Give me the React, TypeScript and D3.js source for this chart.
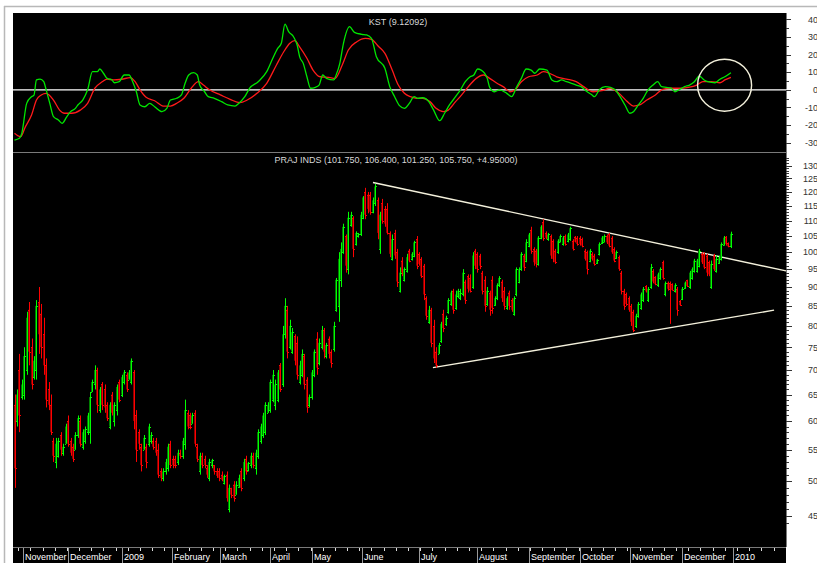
import * as d3 from "d3";

// PRAJ INDS daily bars, late Oct 2008 .. end Dec 2009: [open, high, low, close]
const bars: number[][] = [
  [63,65,49,52],[60,66,59,65],[70,73.5,58,61],[64.5,68,64,67],[65,75,64,73],[70,83.5,69,82],[84,86,71,74],[75,77,66,67],
  [68.5,73,68,72],[70,86.5,68,85],[86,90,73.5,78],[83,85.5,72.5,75],[78,82,69,71],[71,72.5,62.5,64],[66,67.5,62,63],[63,65,57.5,58],
  [56.5,57,53,54],[53,57,52,56],[54,57,53.7,56.5],[57.5,58,54,55],[54.5,56,54,55.5],[56,59.5,56,59],[60,61,55.5,56],[56.5,57,54,54.5],
  [55.5,56,53,53.5],[55,58,55,57.5],[57.5,61,57,60.5],[60,61,55.5,56],[55.5,58.5,55,58],[56.5,59,56,58.5],[58,61.5,57.5,61],[58,65.5,56,64.5],
  [65.5,68,65.5,67.5],[67,71,66,70],[70,70.5,61.5,63],[62,66.5,61.5,66],[67,67.5,62,63],[66,67,61.5,62.5],[63,63.5,60,60.5],[59,63.5,58.5,63],
  [65,65.5,61,61.5],[60,63.5,59,63],[62,67,61,66.5],[67.5,68,63.5,64],[65,69,64.5,68.5],[67.5,70,67,69.5],[69,69.5,65.5,66],[68,70,68,69.5],
  [67.5,72.5,67,72],[69.5,70,58.5,60],[61,62,53,55],[58,58.5,55,56],[55.5,56,51.5,52.5],[55,57.5,55,57],[55.5,56,52,53],[56,59.5,55.5,59],
  [56.5,58,56,57.5],[56.5,57,55,55.5],[56.5,57,54,54.5],[55,56,50.5,51],[51.5,52,50,50.5],[50.5,52,50,51.5],[51.5,53.5,51,53],[52,56,51.5,55.5],
  [56,56.5,52,52.5],[53.5,54,52,52.5],[53.5,54,52,52.5],[53,55,52.5,54.5],[54.5,55,53.5,54],[54,57,53.5,56.5],[56,64,55,62],[61.5,62,58.5,59],
  [61,61.5,58.5,59],[59.5,61.5,59.5,61],[61.5,62,55.5,56],[55.5,56,53,53.5],[51.5,54.5,51,54],[54,54.5,52,52.5],[53.5,54,52,52.5],[52,52.5,50.5,51],
  [50.5,53.5,50,53],[52.5,53.5,52,53.3],[52.5,52.5,51,51.5],[51.5,52,50.5,50.8],[51.5,52,50,50.5],[51,51.5,50,50.2],[49.8,51,49.5,50.8],[51,51.5,47,47.5],
  [46,49.5,45.5,49],[49,49,47.5,48],[49.5,50,47,47.5],[48,50,48,49.5],[49.2,51,49,50.5],[51.5,52,48.5,49],[50.5,53.5,50,53],[53.5,54,51,51.5],
  [51.8,53,51.5,52.8],[52.5,54.5,52,54],[54,54.5,52,52.5],[52,55,51,54.5],[54,58.5,53.5,58],[56.5,59.5,56,59],[57.5,61.5,57,61],[58,63.5,57.5,63],
  [61.5,63.5,61.5,63],[62,68,61.5,67.5],[64,70,63.5,69],[63,68,62,67],[64,70,63.5,69.5],[71,71.5,65.5,66],[67,80,66.5,78],[78,87,77,85],
  [84,85,72.5,74],[75,81.5,74.5,80],[74,79.5,73.5,78.5],[77.5,78,71,72],[76,77.5,68,69],[67.5,72,67,71],[69,74.5,68.5,73.5],[73,73.5,66,67],
  [68,68.5,61.5,62.5],[63,65,62.5,64.5],[64.5,70,64,69.5],[69,74.5,68.5,74],[77,78.5,69,70.5],[71.5,77,71,76],[75,80,74.5,79],[79,79.5,72.5,74],
  [73,76,72.5,75.5],[77,77.5,72.5,73.5],[74,74.5,70.5,71.5],[74.5,81,74,80],[84,92.5,83.5,92],[85,100,81,98],[92,103,90,101],[100,109,99.5,108],
  [105,105.5,94,96],[95,113,93.5,111],[108.5,113,108,112],[111,111.5,98.5,101],[102.5,106.5,102,106],[105,106,104.5,105.5],[105.5,113,105,112],[111,118.5,110.5,118],
  [120,121.5,110.5,112],[119,120,112.5,114],[119,120,112,113],[113,118,112.5,117],[116,123,115,122],[117,118,104,106],[101,113,99.5,112],[116,117.5,109,110],
  [114,115,108,109],[114,116,105.5,106],[106,106.5,98.5,99.5],[98,105.5,97.5,104],[106,107,98,99],[100,101,90,91.5],[89,95.5,88.5,94],[97.5,98.5,93,94],
  [92,95.5,91.5,95],[94.5,99.5,94,98.5],[100.5,101,97,97.5],[98,100,97.5,99.5],[99,103.5,98.5,103],[104,105,95,96],[99.5,100,96,96.5],[98,98.5,92.5,93],
  [96,96.5,86.5,88],[87,87.5,81.5,82.5],[81,85,80.5,84],[84,84.5,75,76],[80,81.5,71.5,72.5],[74,75,70.5,71],[73.5,76,73.5,75.5],[76.5,81,76,80.5],
  [83,84,78.5,79.5],[80.5,82.5,80,82],[83.5,87,83,86.5],[85.5,89,85,88.5],[89,89.5,83,84],[84.5,89,84,88],[87.5,89.5,87,89],[87,89.5,86.5,88.5],
  [88,95,87.5,94],[91.5,92,85.5,86.5],[93,93.5,88.5,89.5],[92.5,93.5,88.5,89],[90,100,89.5,99],[100.5,101,95,96],[99.5,100,94,95],[99,99.5,95,96],
  [94,94.5,88,89],[92,93,83.5,85],[85.5,90,85,89],[88.5,89,82.5,84],[92,93,83,84.5],[85.2,87.5,85,87],[87,91,86.5,90.5],[90.5,93,90,92.5],
  [91.5,92,86,87],[89,90,84,85],[84.5,87.5,84,87],[88.5,89,84,85],[86.5,87,83.5,84],[83,87.5,82.5,87],[88,95.5,87.5,95],[91.5,95.5,91,95],
  [95,100,94.5,99.5],[99,99.5,94.5,95.5],[97.5,104,97,103],[102,106,101.5,105.5],[107,108,99.5,100.5],[101,101.5,96,97],[100.5,101,95.5,96.5],[96.5,105,96,104.5],
  [104.5,108.5,104,108],[109.5,110.5,103.5,104.5],[106,106.5,104,104.5],[104,106,103.5,105.5],[105,105.5,98,99],[103.5,104,97,98],[100.5,101,96.5,97],[100,104,99.5,103.5],
  [103.2,105.5,103,105],[102.5,105,102,104.5],[105,105.5,102,102.5],[103.5,106,103,105.5],[104,108,103.5,107.5],[103.5,104,100.5,101],[104.8,105,103,103.2],[104.5,105,102,102.5],
  [104.5,105,102,102.5],[104,104.5,101.5,102],[100.5,101,97.5,98],[100,100.5,93.5,95],[97.5,101,97,100.5],[99.5,100,97.5,98],[99,99.5,96,96.5],[96.7,98,96.5,97.8],
  [99.5,103,99,102.5],[102.7,105,102.5,104.5],[103.2,105.5,103,105],[105,105.5,102.5,103],[105.5,106,101.5,102],[104.5,105,99.5,100],[101,101.5,97,97.5],[98.2,100.5,98,100],
  [98.5,99,94.5,95],[94,94.5,88,89],[89,89.5,84,85],[88,88.5,85,85.5],[87,87.5,83.5,84],[85,85.5,80,81],[83.5,84,78.5,79],[80,83,79.5,82.5],
  [82.5,86,82,85.5],[84.5,88.5,84,88],[86.5,90,86,89.5],[90.2,90.5,88.5,88.8],[86.5,90,86,89.5],[90,96.5,89.5,95.5],[94.5,95,91,91.5],[92.8,93,90.5,90.8],
  [90.5,94,90,93.5],[92.5,95.5,92,95],[97,97.5,92,92.5],[88,91.5,87.5,91],[91.2,91.5,89,89.5],[91,91.5,80.5,89.5],[90.8,91,89,89.2],[88.8,91,88.5,90.5],
  [89.5,90,82.5,84],[86.3,86.5,85,85.2],[86.8,90,86.5,89.5],[89.7,91.5,89.5,91.2],[91.8,92,90,90.3],[90,94.5,89.5,94],[92.5,95.5,92,95],[94.5,98,94,97.5],
  [94.5,98,94,97.5],[96,101,95.5,100.5],[99.5,100,96.5,97],[99.5,100,95,95.5],[99,99.5,93,94],[97,97.5,93,93.5],[90,97.5,89.5,96.5],[99,99.5,94.5,95],
  [94.5,99,94,98],[96.8,99,96.5,98.5],[98,103,97.5,102.5],[102.3,105,102,104.5],[104.8,105,102,102.5],[102.8,103,101.5,101.8],[101.75,106.4,101.25,105.75],
];

// KST (green) and its signal (red), sampled as [bar index, value]
const kstLine: number[][] = [
  [0,-28.5],[2,-27.5],[3,-24.7],[5,-7.7],[7,-3.9],[8,-3],[9,5.6],[10.5,6.1],[12,4.6],[13,0],[14.5,-7.7],[16,-15.2],[18,-17.1],[19.5,-19],
  [21.5,-15.2],[23,-12.4],[25,-10.5],[26,-8.6],[28,-5.8],[30,0],[32,10.3],[34,10.3],[35,11.8],[36.5,9.4],[38,6.5],[40,5.6],[41,4],[43,4.6],
  [45,8.4],[47,8.4],[48.5,4.6],[50,-1.1],[51.5,-8.6],[53.5,-9.6],[55.5,-7.7],[57.5,-9.6],[60.5,-12.4],[62.5,-10.5],[64,-5.8],[66.5,-4.8],
  [68.5,-2.9],[70,3.7],[71.5,8.4],[73.5,9.7],[75,8.4],[76,2.7],[78,-1.1],[79.5,-3.9],[82,-4.8],[85,-6.7],[87.5,-8.6],[90.5,-9.2],[92,-7.7],
  [94.5,-3.9],[96.5,0.9],[100,4.6],[103.5,10.3],[106,17.9],[108,23.5],[109.5,26.4],[111,37.3],[112.5,33],[114.5,30.1],[116,25.4],[117,18.8],
  [118.5,15],[120,7.4],[121.5,0.9],[123.5,1.4],[125,2.7],[126.5,8.4],[128,6.5],[131,5.6],[132,8.4],[133.5,15],[135,26.4],[137.5,35.8],
  [139.5,32.6],[142.5,31.5],[144.5,31.1],[146.5,29.2],[148.5,18.8],[152,12.2],[154,1.8],[156,-3.9],[158,-9],[160,-10.5],[162,-7.7],[164,-3.9],
  [165.5,-4.8],[167.5,-4.5],[170,-6.7],[172,-11.5],[174.5,-17.5],[176.5,-13.3],[178.5,-8.6],[181,-3.9],[183,0],[185,4.6],[187,7.4],[188.5,8.4],
  [190,11.8],[191.5,11.2],[194,6.5],[195,1.4],[197,-1.1],[199,0],[202,-2],[204,-3.9],[206,1.4],[208,6.5],[210,11.8],[212,11.2],[213.5,9.4],
  [215.5,11.8],[218.5,11.2],[220.5,5.6],[222.5,4.6],[224.5,5.6],[226.5,4.6],[228.5,3.7],[230.5,2.7],[232.5,1.8],[235,-1.1],[237,-2.9],[238,-3.9],
  [240,0],[242.5,1.8],[244.5,1.4],[246.5,0],[248.5,-3.9],[250.5,-8.6],[252.5,-13.3],[254,-12.4],[256,-8.6],[258,-4.8],[260,0],[262,2.7],
  [264,4.6],[265.5,1.8],[267.5,1.4],[269.5,0.9],[271,-1.1],[273,0.3],[275,1.8],[277,2.7],[279,4.6],[281,7.8],[283,5.6],[284.5,4.6],[287.5,4],
  [289.5,6],[291.5,7.4],[294,9.7],
];
const kstSignal: number[][] = [
  [0,-24.7],[2.5,-26.6],[4.5,-20.9],[7,-14.3],[9,-5.8],[11,-2.9],[13,-2],[16,-5.8],[18.5,-11.5],[20.5,-13.3],[23.5,-13.3],[27,-11.5],[30,-7.7],
  [33,0.9],[36,4.6],[38,6.1],[40.5,5.6],[44,6],[47.5,6.9],[49.5,4.6],[51.5,0],[54,-4.2],[57.5,-6.2],[61,-9.2],[64,-9.2],[66.5,-7.7],[69.5,-4.8],
  [72.5,0.9],[75.5,4.6],[77.5,2.7],[80,0],[84.5,-2.9],[88.5,-5.4],[92.5,-7.3],[95.5,-5.8],[99.5,-2],[103.5,3.7],[107.5,14.1],[110.5,21.6],
  [113,26.4],[115,27.9],[117,24.4],[120,17.9],[122.5,11.2],[125.5,7.4],[129,7.1],[131.5,6.5],[134.5,14.1],[137,22.6],[140.5,27.3],[144,29.2],
  [146.5,28.6],[149.5,24.4],[152,20.7],[155,11.2],[157.5,2.7],[160,-2],[162.5,-3.9],[165,-4.8],[167.5,-4.8],[170.5,-6.7],[173,-10.5],[176,-12.4],
  [178,-11.5],[181,-6.7],[183.5,-2.9],[186,1.4],[189.5,6.5],[192.5,8.4],[195,6.5],[198,3.7],[200.5,1.8],[203.5,-1.1],[205.5,0],[208,4.6],
  [211,7.4],[214.5,8.4],[217,10.3],[219.5,9.4],[222.5,7.4],[226.5,6.1],[230.5,4.6],[234,1.4],[237.5,-1.1],[241,-0.5],[244.5,0.9],[248,-2],
  [251.5,-6.7],[254,-9.2],[256.5,-8.6],[259.5,-5.8],[263,-2.9],[266,0.3],[269.5,0.9],[273,0.9],[276.5,1.4],[280,2.7],[282.5,4.6],[286,4.6],
  [289.5,4],[291.5,5.6],[294,7.1],
];

const monthLabels = ["November", "December", "2009", "February", "March", "April", "May", "June",
  "July", "August", "September", "October", "November", "December", "2010"];
const monthStarts = [3.5, 22, 44.1, 64.6, 84.3, 104.8, 122.1, 142.6, 166, 189.8, 211.1, 232, 252.6, 273.9, 294.8];
const kstTicks = [40, 30, 20, 10, 0, -10, -20, -30];
const priceTicks = [45, 50, 55, 60, 65, 70, 75, 80, 85, 90, 95, 100, 105, 110, 115, 120, 125, 130];
// triangle trendlines: [bar index, price] endpoints
const trendLines = [
  [[147.1, 123.5], [316.6, 94.5]],
  [[171.7, 70.5], [311.7, 83.9]],
];
const kstTitle = "KST (9.12092)";
const priceTitle = "PRAJ INDS (101.750, 106.400, 101.250, 105.750, +4.95000)";
const circleAt = [291.4, 2.6];

const FONT = "'Liberation Sans', Arial, sans-serif";

export default function App() {
  const W = 817, H = 563;
  const left = 13, right = 786, top = 13, kstBottom = 152, mainTop = 153, mainBottom = 547;

  const x = d3.scaleLinear().domain([0, 316.6]).range([14.5, right]);
  const yK = d3.scaleLinear().domain([-30, 40]).range([142.7, 19.3]);
  const yP = d3.scaleLog().domain([45, 130]).range([516, 165.5]);

  const lineK = d3.line<number[]>().x((d) => x(d[0])).y((d) => yK(d[1])).curve(d3.curveMonotoneX);

  const minorPrice = d3.range(44, 134);
  const minorKst = d3.range(-35, 46, 5);
  const weekTicks = d3.range(1.5, 316, 5);

  return (
    <svg width={W} height={H} style={{ position: "absolute", left: 0, top: 0, display: "block" }} fontFamily={FONT}>
      <rect x={0} y={0} width={W} height={H} fill="#fff" />
      <line x1={4.5} x2={4.5} y1={6} y2={H} stroke="#b8b8b8" strokeWidth={1.5} />
      <line x1={4} x2={W} y1={6.5} y2={6.5} stroke="#b8b8b8" strokeWidth={1.5} />
      <rect x={left} y={top} width={right - left} height={H - top} fill="#000" />

      {/* panel separators */}
      <line x1={left} x2={right} y1={kstBottom + 0.5} y2={kstBottom + 0.5} stroke="#7a7a7a" />
      <line x1={left} x2={right} y1={mainBottom + 0.5} y2={mainBottom + 0.5} stroke="#7a7a7a" />
      <line x1={right + 0.5} x2={right + 0.5} y1={top} y2={mainBottom} stroke="#7a7a7a" />

      {/* KST panel */}
      <text x={398} y={25} textAnchor="middle" fill="#d8d8d8" fontSize={9}>{kstTitle}</text>
      <line x1={left} x2={right + 4} y1={yK(0)} y2={yK(0)} stroke="#fff" strokeWidth={1.3} />
      <path d={lineK(kstSignal) ?? ""} fill="none" stroke="#ff1a1a" strokeWidth={1.3} />
      <path d={lineK(kstLine) ?? ""} fill="none" stroke="#00e600" strokeWidth={1.3} />
      <ellipse cx={x(circleAt[0])} cy={yK(circleAt[1])} rx={27} ry={26} fill="none" stroke="#f4f1dc" strokeWidth={1.4} />
      {minorKst.filter((v) => yK(v) > top + 2 && yK(v) < kstBottom - 2).map((v) => (
        <line key={"kt" + v} x1={right} x2={right + (v % 10 === 0 ? 5 : 3)} y1={Math.round(yK(v)) + 0.5} y2={Math.round(yK(v)) + 0.5} stroke="#333" />
      ))}
      {kstTicks.map((v) => (
        <text key={"kl" + v} x={818} y={yK(v) + 3.3} textAnchor="end" fill="#333" fontSize={9}>{v}</text>
      ))}

      {/* price panel */}
      <text x={396} y={163} textAnchor="middle" fill="#d8d8d8" fontSize={9} textLength={243} lengthAdjust="spacingAndGlyphs">{priceTitle}</text>
      {trendLines.map((t, i) => (
        <line key={"tl" + i} x1={x(t[0][0])} y1={yP(t[0][1])} x2={x(t[1][0])} y2={yP(t[1][1])} stroke="#f4f1dc" strokeWidth={1.4} />
      ))}
      {bars.map((b, i) => {
        const [o, h, l, c] = b;
        const up = c >= o;
        const px = Math.round(x(i));
        const bright = up ? "#00ff00" : "#ff0000";
        const dark = up ? "#007d00" : "#8c0000";
        const y1 = yP(Math.max(o, c)), y2 = yP(Math.min(o, c));
        return (
          <g key={"b" + i}>
            <rect x={px - 1} y={y1} width={2} height={Math.max(1, y2 - y1)} fill={dark} />
            <line x1={px + 0.5} x2={px + 0.5} y1={yP(h)} y2={yP(l)} stroke={bright} />
            <line x1={px - 1} x2={px} y1={Math.round(yP(o)) + 0.5} y2={Math.round(yP(o)) + 0.5} stroke={bright} />
            <line x1={px + 1} x2={px + 2} y1={Math.round(yP(c)) + 0.5} y2={Math.round(yP(c)) + 0.5} stroke={bright} />
          </g>
        );
      })}
      {minorPrice.filter((v) => yP(v) > mainTop + 3 && yP(v) < mainBottom - 3).map((v) => (
        <line key={"pt" + v} x1={right} x2={right + (v % 5 === 0 ? 6 : 3)} y1={Math.round(yP(v)) + 0.5} y2={Math.round(yP(v)) + 0.5} stroke="#333" />
      ))}
      {priceTicks.map((v) => (
        <text key={"pl" + v} x={818} y={yP(v) + 3.3} textAnchor="end" fill="#333" fontSize={9}>{v}</text>
      ))}

      {/* time axis */}
      {weekTicks.map((t) => (
        <line key={"wt" + t} x1={Math.round(x(t)) + 0.5} x2={Math.round(x(t)) + 0.5} y1={mainBottom + 1} y2={mainBottom + 4} stroke="#ddd" />
      ))}
      {monthStarts.map((m, i) => (
        <g key={"m" + i}>
          <line x1={Math.round(x(m)) + 0.5} x2={Math.round(x(m)) + 0.5} y1={mainBottom + 1} y2={H} stroke="#9a9a9a" />
          <text x={Math.round(x(m)) + 2} y={559.5} fill="#fff" fontSize={9}>{monthLabels[i]}</text>
        </g>
      ))}
    </svg>
  );
}
